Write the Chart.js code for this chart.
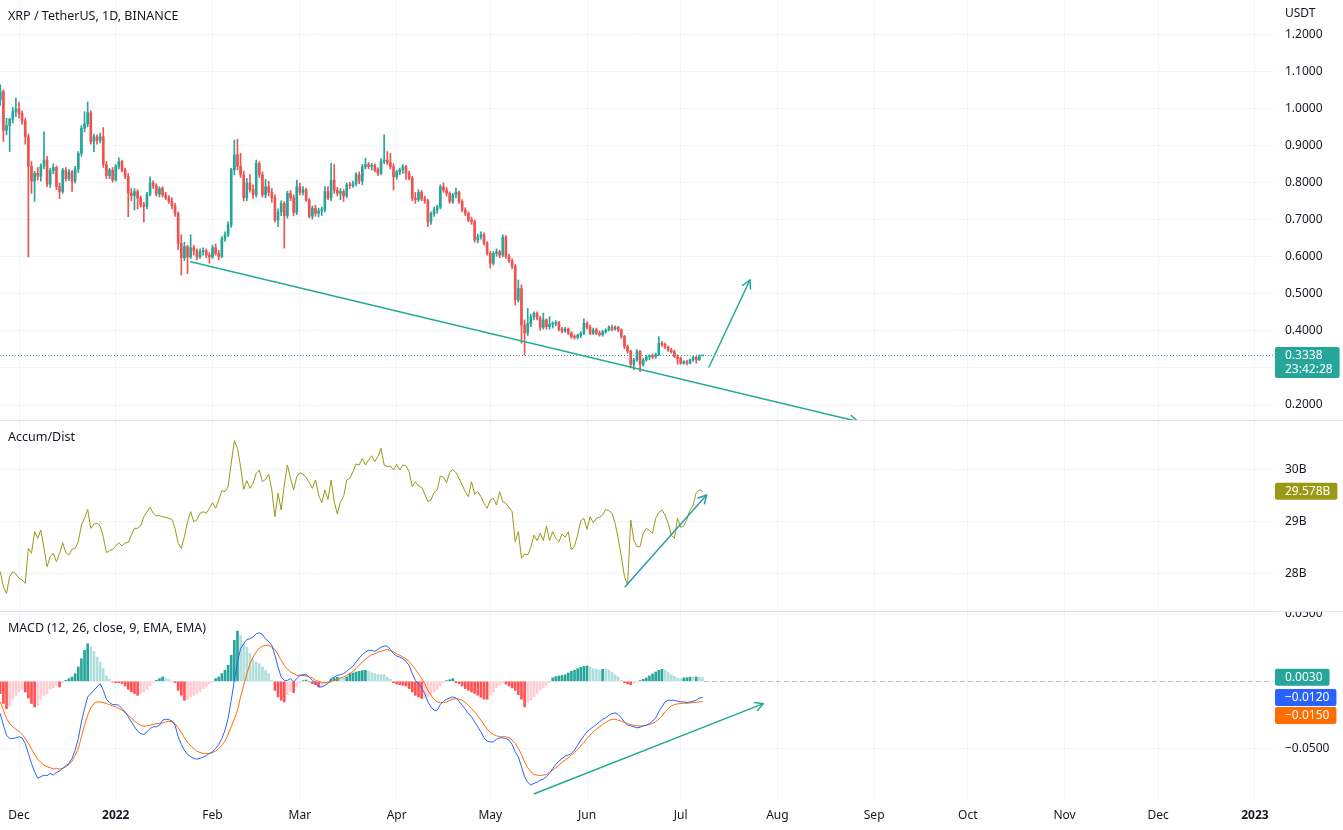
<!DOCTYPE html>
<html><head><meta charset="utf-8">
<script src="https://cdn.jsdelivr.net/npm/chart.js@4.4.1/dist/chart.umd.min.js"></script>
<style>
html,body{margin:0;padding:0;background:#fff;}
#wrap{position:relative;width:1343px;height:830px;overflow:hidden;}
canvas{position:absolute;left:0;top:0;}
.lbl{position:absolute;left:8px;font:12.5px "Noto Sans",sans-serif;color:#131722;white-space:nowrap;line-height:16px;}
</style></head><body>
<div id="wrap">
<canvas id="c" width="1343" height="830"></canvas>
<div class="lbl" style="top:8px">XRP / TetherUS, 1D, BINANCE</div>
<div class="lbl" style="top:429px">Accum/Dist</div>
<div class="lbl" style="top:620px">MACD (12, 26, close, 9, EMA, EMA)</div>
<div class="lbl" style="left:1285px;top:5px;font-size:12px">USDT</div>
</div>
<script>
// ---- data (daily candles from 2021-11-25) ----
const startDate = '2021-11-25';
const open = [1.025,1.047,0.942,0.955,0.972,0.993,
1.000,0.988,0.968,0.925,0.845,0.805,0.826,0.818,0.846,0.862,
0.797,0.833,0.842,0.790,0.777,0.835,0.812,0.830,0.805,0.838,
0.880,0.948,0.960,0.990,0.912,0.925,0.915,0.925,0.850,0.820,
0.835,0.808,0.845,0.858,0.835,0.817,0.773,0.766,0.777,0.759,
0.741,0.737,0.770,0.800,0.792,0.770,0.785,0.768,0.760,0.750,
0.738,0.718,0.637,0.598,0.628,0.600,0.625,0.617,0.600,0.615,
0.617,0.605,0.600,0.625,0.610,0.601,0.650,0.660,0.687,0.835,
0.876,0.845,0.822,0.760,0.800,0.782,0.768,0.853,0.822,0.768,
0.790,0.775,0.760,0.700,0.722,0.745,0.712,0.772,0.760,0.720,
0.790,0.775,0.782,0.754,0.710,0.732,0.718,0.725,0.728,0.777,
0.760,0.808,0.781,0.772,0.777,0.765,0.795,0.793,0.798,0.822,
0.805,0.844,0.850,0.845,0.848,0.835,0.826,0.858,0.862,0.855,
0.844,0.817,0.830,0.835,0.844,0.826,0.813,0.759,0.755,0.775,
0.757,0.752,0.695,0.718,0.727,0.735,0.790,0.781,0.772,0.750,
0.768,0.775,0.750,0.727,0.718,0.700,0.695,0.646,0.655,0.660,
0.637,0.610,0.583,0.610,0.614,0.605,0.654,0.601,0.590,0.575,
0.484,0.515,0.416,0.395,0.420,0.439,0.448,0.435,0.410,0.430,
0.412,0.418,0.420,0.423,0.405,0.400,0.405,0.394,0.385,0.383,
0.388,0.394,0.421,0.410,0.394,0.403,0.394,0.390,0.398,0.403,
0.410,0.405,0.410,0.403,0.385,0.358,0.345,0.310,0.322,0.345,
0.310,0.322,0.330,0.332,0.330,0.336,0.367,0.364,0.356,0.349,
0.344,0.331,0.326,0.313,0.317,0.313,0.322,0.329,0.322,0.333];
const high = [1.065,1.052,0.975,0.975,1.005,1.030,
1.018,0.995,0.975,0.932,0.858,0.832,0.842,0.852,0.938,0.872,
0.840,0.852,0.846,0.800,0.840,0.842,0.836,0.834,0.845,0.885,
0.955,0.993,1.019,0.995,0.932,0.930,0.935,0.950,0.858,0.840,
0.842,0.850,0.868,0.862,0.840,0.826,0.785,0.785,0.782,0.765,
0.748,0.775,0.817,0.806,0.798,0.790,0.790,0.775,0.766,0.760,
0.745,0.722,0.660,0.640,0.632,0.660,0.632,0.622,0.622,0.625,
0.622,0.612,0.632,0.635,0.618,0.655,0.668,0.695,0.840,0.916,
0.918,0.880,0.832,0.812,0.823,0.795,0.862,0.858,0.830,0.810,
0.805,0.785,0.768,0.730,0.752,0.750,0.778,0.780,0.768,0.808,
0.800,0.790,0.786,0.758,0.738,0.740,0.732,0.735,0.790,0.790,
0.853,0.850,0.788,0.785,0.782,0.800,0.802,0.805,0.828,0.830,
0.850,0.867,0.856,0.853,0.852,0.842,0.866,0.930,0.885,0.880,
0.852,0.835,0.840,0.850,0.848,0.832,0.818,0.775,0.782,0.780,
0.765,0.756,0.722,0.735,0.740,0.795,0.800,0.788,0.776,0.772,
0.786,0.778,0.755,0.733,0.722,0.708,0.700,0.662,0.668,0.665,
0.642,0.615,0.615,0.622,0.618,0.660,0.658,0.608,0.595,0.580,
0.538,0.525,0.430,0.461,0.445,0.452,0.452,0.440,0.448,0.433,
0.439,0.425,0.428,0.426,0.410,0.410,0.408,0.398,0.390,0.392,
0.398,0.433,0.425,0.416,0.408,0.408,0.400,0.402,0.406,0.414,
0.416,0.414,0.413,0.406,0.388,0.362,0.348,0.326,0.350,0.348,
0.326,0.334,0.336,0.338,0.340,0.385,0.372,0.368,0.360,0.353,
0.348,0.336,0.330,0.320,0.321,0.325,0.332,0.332,0.336,0.3345];
const low = [1.010,0.912,0.930,0.885,0.962,0.980,
0.975,0.958,0.905,0.600,0.772,0.750,0.808,0.805,0.838,0.790,
0.788,0.825,0.782,0.758,0.772,0.805,0.806,0.777,0.800,0.828,
0.872,0.938,0.952,0.905,0.885,0.905,0.908,0.842,0.812,0.812,
0.802,0.805,0.838,0.830,0.812,0.709,0.752,0.727,0.730,0.735,
0.695,0.730,0.765,0.785,0.765,0.762,0.762,0.755,0.745,0.730,
0.710,0.620,0.551,0.590,0.555,0.596,0.605,0.592,0.596,0.605,
0.598,0.583,0.596,0.605,0.592,0.598,0.642,0.655,0.680,0.822,
0.835,0.815,0.752,0.752,0.775,0.758,0.762,0.815,0.762,0.760,
0.765,0.748,0.695,0.682,0.712,0.624,0.705,0.752,0.712,0.715,
0.768,0.768,0.750,0.705,0.702,0.710,0.708,0.712,0.722,0.755,
0.752,0.772,0.765,0.755,0.750,0.760,0.785,0.788,0.792,0.798,
0.795,0.838,0.838,0.835,0.830,0.820,0.822,0.852,0.850,0.838,
0.781,0.810,0.822,0.826,0.810,0.808,0.752,0.745,0.750,0.752,
0.745,0.682,0.688,0.710,0.718,0.730,0.775,0.765,0.745,0.745,
0.760,0.745,0.722,0.712,0.695,0.688,0.640,0.638,0.648,0.632,
0.605,0.570,0.578,0.602,0.598,0.600,0.596,0.585,0.568,0.470,
0.478,0.367,0.335,0.388,0.412,0.430,0.430,0.402,0.405,0.405,
0.405,0.408,0.414,0.400,0.395,0.396,0.390,0.380,0.378,0.378,
0.382,0.390,0.405,0.390,0.390,0.390,0.386,0.386,0.394,0.400,
0.400,0.402,0.398,0.380,0.352,0.340,0.300,0.295,0.318,0.290,
0.305,0.318,0.322,0.325,0.326,0.333,0.358,0.352,0.345,0.340,
0.328,0.310,0.310,0.310,0.308,0.311,0.318,0.313,0.320,0.3325];
const close = [1.047,0.942,0.955,0.972,0.993,1.000,
0.988,0.968,0.925,0.845,0.805,0.826,0.818,0.846,0.862,0.797,
0.833,0.842,0.790,0.777,0.835,0.812,0.830,0.805,0.838,0.880,
0.948,0.960,0.990,0.912,0.925,0.915,0.925,0.850,0.820,0.835,
0.808,0.845,0.858,0.835,0.817,0.773,0.766,0.777,0.759,0.741,
0.737,0.770,0.800,0.792,0.770,0.785,0.768,0.760,0.750,0.738,
0.718,0.637,0.598,0.628,0.600,0.625,0.617,0.600,0.615,0.617,
0.605,0.600,0.625,0.610,0.601,0.650,0.660,0.687,0.835,0.876,
0.845,0.822,0.760,0.800,0.782,0.768,0.853,0.822,0.768,0.790,
0.775,0.760,0.700,0.722,0.745,0.712,0.772,0.760,0.720,0.790,
0.775,0.782,0.754,0.710,0.732,0.718,0.725,0.728,0.777,0.760,
0.808,0.781,0.772,0.777,0.765,0.795,0.793,0.798,0.822,0.805,
0.844,0.850,0.845,0.848,0.835,0.826,0.858,0.862,0.855,0.844,
0.817,0.830,0.835,0.844,0.826,0.813,0.759,0.755,0.775,0.757,
0.752,0.695,0.718,0.727,0.735,0.790,0.781,0.772,0.750,0.768,
0.775,0.750,0.727,0.718,0.700,0.695,0.646,0.655,0.660,0.637,
0.610,0.583,0.610,0.614,0.605,0.654,0.601,0.590,0.575,0.484,
0.515,0.416,0.395,0.420,0.439,0.448,0.435,0.410,0.430,0.412,
0.418,0.420,0.423,0.405,0.400,0.405,0.394,0.385,0.383,0.388,
0.394,0.421,0.410,0.394,0.403,0.394,0.390,0.398,0.403,0.410,
0.405,0.410,0.403,0.385,0.358,0.345,0.310,0.322,0.345,0.310,
0.322,0.330,0.332,0.330,0.336,0.367,0.364,0.356,0.349,0.344,
0.331,0.326,0.313,0.317,0.313,0.322,0.329,0.322,0.333,0.3338];
// Accumulation/Distribution, in billions
const accDist = [28.031,27.743,27.615,27.935,28.031,27.986,
27.903,27.871,27.807,28.480,28.384,28.801,28.672,28.833,28.480,28.127,
28.320,28.384,28.224,28.384,28.589,28.397,28.352,28.461,28.480,28.608,
28.929,29.057,29.230,28.865,28.948,28.961,28.910,28.704,28.397,28.435,
28.461,28.525,28.589,28.525,28.589,28.589,28.736,28.865,28.865,28.910,
29.089,29.185,29.269,29.153,29.108,29.108,29.089,29.076,29.057,29.038,
28.865,28.576,28.480,28.704,28.993,29.185,28.993,29.025,29.153,29.185,
29.153,29.249,29.358,29.249,29.410,29.589,29.570,29.666,30.115,30.551,
30.403,30.051,29.615,29.781,29.634,29.730,29.922,29.986,29.762,29.807,
29.903,29.602,29.089,29.538,29.217,29.698,30.083,29.826,29.602,29.858,
29.935,29.910,29.845,29.743,29.634,29.794,29.506,29.358,29.602,29.422,
29.794,29.378,29.140,29.378,29.474,29.794,29.826,29.954,30.102,30.083,
30.211,30.083,30.179,30.262,30.147,30.243,30.403,30.083,30.051,30.063,
29.986,30.095,29.986,30.083,30.063,29.954,29.666,29.762,29.679,29.653,
29.525,29.378,29.410,29.551,29.602,29.871,29.845,29.743,29.935,29.999,
29.935,29.826,29.698,29.570,29.474,29.762,29.525,29.570,29.474,29.345,
29.249,29.410,29.442,29.313,29.570,29.378,29.345,29.269,29.185,28.608,
28.801,28.288,28.371,28.352,28.499,28.736,28.628,28.769,28.628,28.910,
28.628,28.801,28.672,28.608,28.756,28.692,28.801,28.448,28.525,28.736,
29.012,29.057,28.846,29.089,28.974,29.057,29.076,29.121,29.230,29.204,
29.153,28.961,28.672,28.320,27.935,27.775,29.025,28.640,28.512,28.512,
28.769,28.865,28.820,28.769,29.057,29.166,29.217,29.121,28.961,28.736,
28.672,29.057,28.884,28.910,29.038,29.217,29.313,29.551,29.602,29.578];
const macd = [-0.0240,-0.0326,-0.0400,-0.0425,-0.0425,-0.0420,
-0.0412,-0.0420,-0.0462,-0.0536,-0.0610,-0.0672,-0.0721,-0.0709,-0.0697,-0.0701,
-0.0684,-0.0697,-0.0677,-0.0667,-0.0647,-0.0627,-0.0610,-0.0573,-0.0511,-0.0425,
-0.0301,-0.0203,-0.0116,-0.0091,-0.0067,-0.0042,-0.0017,-0.0067,-0.0133,-0.0158,
-0.0173,-0.0173,-0.0178,-0.0203,-0.0227,-0.0264,-0.0301,-0.0338,-0.0371,-0.0388,
-0.0395,-0.0375,-0.0351,-0.0338,-0.0338,-0.0326,-0.0289,-0.0282,-0.0284,-0.0296,
-0.0326,-0.0412,-0.0469,-0.0511,-0.0543,-0.0561,-0.0573,-0.0578,-0.0573,-0.0563,
-0.0553,-0.0536,-0.0524,-0.0499,-0.0469,-0.0425,-0.0363,-0.0277,-0.0141,0.0007,
0.0143,0.0242,0.0279,0.0311,0.0316,0.0329,0.0353,0.0361,0.0346,0.0316,
0.0296,0.0267,0.0193,0.0106,0.0032,0.0007,0.0007,0.0020,-0.0005,0.0020,
0.0044,0.0049,0.0049,0.0032,0.0007,-0.0010,-0.0042,-0.0042,-0.0030,-0.0017,
0.0020,0.0032,0.0044,0.0049,0.0057,0.0074,0.0094,0.0111,0.0143,0.0173,
0.0198,0.0217,0.0230,0.0230,0.0222,0.0237,0.0254,0.0262,0.0262,0.0237,
0.0205,0.0188,0.0180,0.0168,0.0148,0.0119,0.0057,0.0007,-0.0017,-0.0049,
-0.0091,-0.0153,-0.0190,-0.0215,-0.0215,-0.0173,-0.0148,-0.0133,-0.0124,-0.0116,
-0.0124,-0.0148,-0.0178,-0.0207,-0.0240,-0.0264,-0.0301,-0.0338,-0.0375,-0.0420,
-0.0445,-0.0450,-0.0450,-0.0430,-0.0420,-0.0420,-0.0425,-0.0437,-0.0469,-0.0524,
-0.0561,-0.0635,-0.0709,-0.0751,-0.0771,-0.0758,-0.0751,-0.0734,-0.0726,-0.0709,
-0.0684,-0.0647,-0.0618,-0.0593,-0.0573,-0.0556,-0.0548,-0.0536,-0.0511,-0.0474,
-0.0437,-0.0405,-0.0375,-0.0356,-0.0338,-0.0321,-0.0301,-0.0282,-0.0272,-0.0252,
-0.0240,-0.0235,-0.0247,-0.0272,-0.0301,-0.0326,-0.0331,-0.0338,-0.0346,-0.0341,
-0.0331,-0.0326,-0.0314,-0.0296,-0.0272,-0.0227,-0.0190,-0.0153,-0.0141,-0.0141,
-0.0141,-0.0148,-0.0153,-0.0153,-0.0158,-0.0153,-0.0148,-0.0141,-0.0124,-0.0120];
const signal = [-0.0153,-0.0215,-0.0277,-0.0314,-0.0338,-0.0356,
-0.0371,-0.0395,-0.0425,-0.0462,-0.0504,-0.0543,-0.0578,-0.0603,-0.0622,-0.0635,
-0.0642,-0.0652,-0.0647,-0.0652,-0.0647,-0.0635,-0.0618,-0.0593,-0.0553,-0.0499,
-0.0412,-0.0326,-0.0252,-0.0198,-0.0165,-0.0153,-0.0153,-0.0158,-0.0165,-0.0173,
-0.0183,-0.0190,-0.0203,-0.0215,-0.0232,-0.0252,-0.0272,-0.0296,-0.0314,-0.0326,
-0.0333,-0.0331,-0.0326,-0.0321,-0.0314,-0.0314,-0.0309,-0.0301,-0.0296,-0.0301,
-0.0314,-0.0346,-0.0380,-0.0420,-0.0454,-0.0479,-0.0499,-0.0519,-0.0529,-0.0536,
-0.0536,-0.0536,-0.0529,-0.0519,-0.0499,-0.0474,-0.0445,-0.0395,-0.0338,-0.0282,
-0.0215,-0.0116,-0.0030,0.0057,0.0131,0.0180,0.0217,0.0247,0.0262,0.0267,
0.0267,0.0254,0.0237,0.0198,0.0156,0.0119,0.0089,0.0069,0.0057,0.0044,
0.0044,0.0044,0.0040,0.0032,0.0025,0.0007,0.0000,-0.0010,-0.0010,-0.0010,
-0.0005,0.0007,0.0015,0.0025,0.0032,0.0044,0.0057,0.0074,0.0094,0.0119,
0.0143,0.0163,0.0180,0.0198,0.0205,0.0217,0.0222,0.0230,0.0237,0.0230,
0.0217,0.0205,0.0193,0.0180,0.0168,0.0148,0.0119,0.0089,0.0057,0.0020,
-0.0017,-0.0067,-0.0104,-0.0133,-0.0153,-0.0158,-0.0158,-0.0153,-0.0141,-0.0133,
-0.0128,-0.0133,-0.0141,-0.0158,-0.0178,-0.0203,-0.0227,-0.0257,-0.0289,-0.0321,
-0.0356,-0.0380,-0.0395,-0.0405,-0.0412,-0.0412,-0.0412,-0.0420,-0.0437,-0.0462,
-0.0499,-0.0543,-0.0598,-0.0642,-0.0672,-0.0692,-0.0697,-0.0701,-0.0697,-0.0692,
-0.0677,-0.0659,-0.0642,-0.0622,-0.0603,-0.0585,-0.0568,-0.0548,-0.0529,-0.0504,
-0.0479,-0.0454,-0.0425,-0.0400,-0.0375,-0.0356,-0.0338,-0.0321,-0.0306,-0.0291,
-0.0282,-0.0282,-0.0289,-0.0296,-0.0306,-0.0314,-0.0321,-0.0326,-0.0331,-0.0331,
-0.0331,-0.0326,-0.0321,-0.0314,-0.0301,-0.0282,-0.0257,-0.0227,-0.0203,-0.0183,
-0.0173,-0.0168,-0.0165,-0.0163,-0.0163,-0.0161,-0.0158,-0.0156,-0.0153,-0.0150];
const histogram = [-0.0091,-0.0165,-0.0203,-0.0183,-0.0133,-0.0104,
-0.0079,-0.0059,-0.0079,-0.0124,-0.0165,-0.0190,-0.0178,-0.0133,-0.0104,-0.0091,
-0.0059,-0.0049,-0.0035,-0.0042,-0.0010,0.0007,0.0020,0.0032,0.0057,0.0106,
0.0168,0.0230,0.0279,0.0254,0.0222,0.0180,0.0143,0.0094,0.0040,0.0015,
-0.0005,-0.0010,-0.0010,-0.0017,-0.0035,-0.0059,-0.0079,-0.0091,-0.0104,-0.0091,
-0.0079,-0.0059,-0.0035,-0.0010,0.0007,0.0020,0.0032,0.0025,0.0015,0.0000,
-0.0010,-0.0067,-0.0104,-0.0141,-0.0133,-0.0116,-0.0104,-0.0091,-0.0074,-0.0054,
-0.0042,-0.0017,-0.0005,0.0020,0.0032,0.0057,0.0082,0.0119,0.0193,0.0304,
0.0373,0.0341,0.0279,0.0254,0.0205,0.0168,0.0143,0.0131,0.0106,0.0082,
0.0057,0.0007,-0.0067,-0.0116,-0.0141,-0.0153,-0.0099,-0.0074,-0.0084,-0.0042,
-0.0010,0.0005,0.0010,-0.0005,-0.0017,-0.0025,-0.0042,-0.0035,-0.0017,-0.0010,
0.0015,0.0025,0.0030,0.0025,0.0025,0.0032,0.0057,0.0062,0.0069,0.0074,
0.0079,0.0082,0.0074,0.0064,0.0057,0.0049,0.0049,0.0049,0.0032,0.0015,
-0.0010,-0.0020,-0.0025,-0.0030,-0.0035,-0.0054,-0.0079,-0.0104,-0.0116,-0.0128,
-0.0124,-0.0116,-0.0099,-0.0079,-0.0059,-0.0035,-0.0010,0.0005,0.0012,0.0020,
-0.0010,-0.0017,-0.0035,-0.0054,-0.0067,-0.0079,-0.0091,-0.0104,-0.0119,-0.0133,
-0.0133,-0.0104,-0.0079,-0.0049,-0.0030,-0.0012,-0.0020,-0.0035,-0.0049,-0.0067,
-0.0099,-0.0133,-0.0190,-0.0158,-0.0141,-0.0116,-0.0091,-0.0067,-0.0049,-0.0030,
-0.0010,0.0025,0.0035,0.0040,0.0044,0.0049,0.0062,0.0074,0.0082,0.0094,
0.0104,0.0111,0.0114,0.0106,0.0094,0.0089,0.0082,0.0089,0.0089,0.0082,
0.0069,0.0049,0.0032,0.0007,-0.0010,-0.0020,-0.0025,-0.0015,-0.0005,0.0005,
0.0015,0.0025,0.0040,0.0054,0.0069,0.0082,0.0089,0.0082,0.0069,0.0049,
0.0037,0.0025,0.0020,0.0025,0.0027,0.0030,0.0030,0.0032,0.0030,0.0030];
const tickDates = ['2021-12-01','2022-01-01','2022-02-01','2022-03-01','2022-04-01','2022-05-01','2022-06-01','2022-07-01','2022-08-01','2022-09-01','2022-10-01','2022-11-01','2022-12-01','2023-01-01'];
const tickLabels = ['Dec','2022','Feb','Mar','Apr','May','Jun','Jul','Aug','Sep','Oct','Nov','Dec','2023'];
const priceTicks = [1.2,1.1,1.0,0.9,0.8,0.7,0.6,0.5,0.4,0.3,0.2];
const adTicks = [30,29,28];
const macdTicks = [0.05,0,-0.05];
const countdown = '23:42:28';
// user drawings (day offset from 2021-12-01, value)
const drawings = [
  {axis:'yP', d1:55.0, v1:0.5873, d2:268.8, v2:0.1554, color:'#22ab94'},
  {axis:'yP', d1:221.1, v1:0.3027, d2:234.2, v2:0.5378, color:'#22ab94'},
  {axis:'yA', d1:194.2, v1:27.742, d2:220.3, v2:29.506, color:'#2b9bb0'},
  {axis:'yM', d1:165.1, v1:-0.0835, d2:238.5, v2:-0.0166, color:'#22ab94'}
];

// ---- build ----
const DAY0 = Date.UTC(2021,11,1);
const dayOf = s => Math.round((Date.parse(s+'T00:00:00Z')-DAY0)/864e5);
const firstDay = dayOf(startDate);
const N = Math.min(open.length, high.length, low.length, close.length, accDist.length, macd.length, signal.length, histogram.length);
const dayAt = i => firstDay + i;
const UP='#26a69a', DOWN='#ef5350';
const candleCol=[], bodies=[], wicks=[], adPts=[], macdPts=[], sigPts=[], histPts=[], histCol=[];
for (let i=0;i<N;i++){
  const d=dayAt(i);
  candleCol.push(close[i]>=open[i]?UP:DOWN);
  bodies.push({x:d, y:[open[i],close[i]]});
  wicks.push({x:d, y:[low[i],high[i]]});
  adPts.push({x:d, y:accDist[i]});
  macdPts.push({x:d, y:macd[i]});
  sigPts.push({x:d, y:signal[i]});
  histPts.push({x:d, y:histogram[i]});
  const h=histogram[i], p=i>0?histogram[i-1]:h;
  histCol.push(h>=0 ? (p<h?'#26a69a':'#b2dfdb') : (p<h?'#ffcdd2':'#ff5252'));
}
const tickDays = tickDates.map(dayOf);
const FONT='"Noto Sans", sans-serif';
Chart.defaults.font.family = FONT;
Chart.defaults.font.size = 12;
Chart.defaults.color = '#131722';
const minus = v => (v<0?'\u2212':'') + Math.abs(v).toFixed(4);

function yAxis(weight, min, max, ticks, cb){
  return {type:'linear', position:'right', stack:'panes', stackWeight:weight, min, max,
    grid:{color:'#f0f3fa', drawTicks:false}, border:{display:false},
    afterBuildTicks: s => { s.ticks = ticks.map(v=>({value:v})); },
    afterFit: s => { s.width = 70; s.paddingTop = 0; s.paddingBottom = 0; },
    ticks:{padding:12, color:'#131722', font:{size:12}, autoSkip:false, callback: cb}};
}

function roundRect(ctx,x,y,w,h,r){
  ctx.beginPath(); ctx.moveTo(x+r,y); ctx.lineTo(x+w-r,y); ctx.quadraticCurveTo(x+w,y,x+w,y+r);
  ctx.lineTo(x+w,y+h-r); ctx.quadraticCurveTo(x+w,y+h,x+w-r,y+h); ctx.lineTo(x+r,y+h);
  ctx.quadraticCurveTo(x,y+h,x,y+h-r); ctx.lineTo(x,y+r); ctx.quadraticCurveTo(x,y,x+r,y); ctx.closePath();
}
function badge(ctx, left, yc, lines, bg){
  ctx.font = '12px '+FONT;
  const w = Math.max(...lines.map(t=>ctx.measureText(t).width)) + 17;
  const h = lines.length===1 ? 17 : 31;
  ctx.fillStyle = bg; roundRect(ctx, left+2, yc-8.5, w, h, 2); ctx.fill();
  ctx.fillStyle = '#ffffff'; ctx.textAlign='left'; ctx.textBaseline='middle';
  lines.forEach((t,i)=>ctx.fillText(t, left+12, yc+i*14));
  return {top: yc-8.5, bottom: yc-8.5+h};
}

const overlay = {
  id:'overlay',
  afterDatasetsDraw(chart){
    const {ctx, chartArea:a, scales} = chart;
    const x = scales.x, yP = scales.yP, yM = scales.yM;
    ctx.save();
    const py = Math.round(yP.getPixelForValue(close[N-1]))+0.5;
    ctx.strokeStyle = UP; ctx.lineWidth = 1; ctx.setLineDash([1,2]);
    ctx.beginPath(); ctx.moveTo(a.left,py); ctx.lineTo(a.right,py); ctx.stroke();
    const zy = Math.round(yM.getPixelForValue(0))+0.5;
    ctx.strokeStyle = '#b2b5be'; ctx.setLineDash([4,4]);
    ctx.beginPath(); ctx.moveTo(x.getPixelForValue(dayAt(N-1))+2,zy); ctx.lineTo(a.right,zy); ctx.stroke();
    ctx.restore();
    for (const dr of drawings){
      const s = scales[dr.axis];
      ctx.save();
      ctx.beginPath(); ctx.rect(a.left, s.top, a.right-a.left, s.bottom-s.top); ctx.clip();
      const x1=x.getPixelForValue(dr.d1), y1=s.getPixelForValue(dr.v1);
      const x2=x.getPixelForValue(dr.d2), y2=s.getPixelForValue(dr.v2);
      ctx.strokeStyle=dr.color; ctx.lineWidth=1.5; ctx.lineCap='round'; ctx.lineJoin='round';
      ctx.beginPath(); ctx.moveTo(x1,y1); ctx.lineTo(x2,y2); ctx.stroke();
      const ang=Math.atan2(y2-y1,x2-x1), L=9, sp=0.5;
      ctx.beginPath();
      ctx.moveTo(x2-L*Math.cos(ang-sp), y2-L*Math.sin(ang-sp)); ctx.lineTo(x2,y2);
      ctx.lineTo(x2-L*Math.cos(ang+sp), y2-L*Math.sin(ang+sp)); ctx.stroke();
      ctx.restore();
    }
  },
  afterDraw(chart){
    const {ctx, scales} = chart;
    const yP=scales.yP, yA=scales.yA, yM=scales.yM;
    ctx.save();
    ctx.fillStyle='#ffffff'; ctx.fillRect(yA.left, yA.bottom-8, chart.width-yA.left, 8);
    ctx.strokeStyle='#e0e3eb'; ctx.lineWidth=1;
    [yP.bottom, yA.bottom].forEach(y=>{ const yy=Math.round(y)+0.5; ctx.beginPath(); ctx.moveTo(0,yy); ctx.lineTo(chart.width,yy); ctx.stroke(); });
    const L = yP.left;
    badge(ctx, L, yP.getPixelForValue(close[N-1]), [close[N-1].toFixed(4), countdown], UP);
    badge(ctx, L, yA.getPixelForValue(accDist[N-1]), [accDist[N-1].toFixed(3)+'B'], '#999915');
    const items = [
      {v:histogram[N-1], c:'#26a69a'},
      {v:macd[N-1], c:'#2962ff'},
      {v:signal[N-1], c:'#ff6d00'}
    ].map(o=>({...o, y:yM.getPixelForValue(o.v)})).sort((p,q)=>p.y-q.y);
    let prevBottom=-1e9;
    for (const it of items){
      let yc = it.y;
      if (yc-8.5 < prevBottom+1) yc = prevBottom+1+8.5;
      const r = badge(ctx, L, yc, [minus(it.v)], it.c);
      prevBottom = r.bottom;
    }
    ctx.restore();
  }
};

new Chart(document.getElementById('c'), {
  type:'bar',
  data:{datasets:[
    {type:'line', data:macdPts, yAxisID:'yM', borderColor:'#2962ff', borderWidth:1, pointRadius:0, tension:0, order:0},
    {type:'line', data:sigPts, yAxisID:'yM', borderColor:'#ff6d00', borderWidth:1, pointRadius:0, tension:0, order:1},
    {type:'line', data:adPts, yAxisID:'yA', borderColor:'#999915', borderWidth:1, pointRadius:0, tension:0, order:2},
    {type:'bar', data:bodies, yAxisID:'yP', backgroundColor:candleCol, barThickness:2, grouped:false, minBarLength:1, borderWidth:0, order:3},
    {type:'bar', data:wicks, yAxisID:'yP', backgroundColor:candleCol, barThickness:1, grouped:false, borderWidth:0, order:4},
    {type:'bar', data:histPts, yAxisID:'yM', backgroundColor:histCol, barThickness:2, grouped:false, borderWidth:0, order:5}
  ]},
  options:{
    responsive:false, animation:false, devicePixelRatio:1,
    layout:{padding:0},
    events:[],
    plugins:{legend:{display:false}, tooltip:{enabled:false}},
    scales:{
      x:{type:'linear', position:'bottom', min:-6.09, max:401.8, offset:false,
        grid:{color:'#f0f3fa', drawTicks:false, offset:false}, border:{display:false},
        afterBuildTicks: s => { s.ticks = tickDays.map(v=>({value:v})); },
        afterFit: s => { s.height = 30; s.paddingLeft = 0; s.paddingRight = 0; },
        ticks:{padding:8, color:'#131722', autoSkip:false, maxRotation:0, minRotation:0,
          callback:(v,i)=>tickLabels[i],
          font: c => ({family:FONT, size:12, weight: /^\d{4}$/.test(tickLabels[c.index]||'') ? 'bold' : 'normal'})}
      },
      yP: yAxis(420, 0.15946, 1.29459, priceTicks, v => Math.abs(v-0.3)<1e-9 ? '' : v.toFixed(4)),
      yA: yAxis(191, 27.275, 30.948, adTicks, v => v+'B'),
      yM: yAxis(189, -0.08819, 0.05223, macdTicks, v => Math.abs(v)<1e-12 ? '' : minus(v))
    }
  },
  plugins:[overlay]
});
</script>
</body></html>
